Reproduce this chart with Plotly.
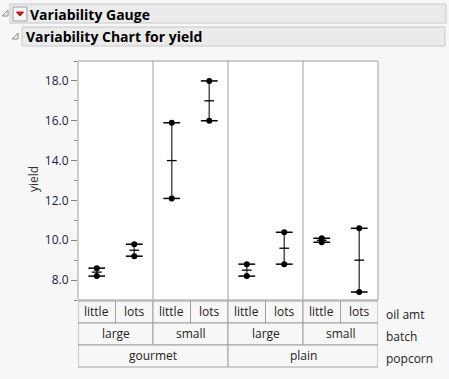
import plotly.graph_objects as go

# ---- data ----
popcorn = ["gourmet", "gourmet", "gourmet", "gourmet", "plain", "plain", "plain", "plain"]
batch = ["large", "large", "small", "small", "large", "large", "small", "small"]
oil_amt = ["little", "lots", "little", "lots", "little", "lots", "little", "lots"]
yield_rep1 = [8.6, 9.2, 12.1, 18.0, 8.2, 10.4, 9.9, 10.6]
yield_rep2 = [8.2, 9.8, 15.9, 16.0, 8.8, 8.8, 10.1, 7.4]
y_ticks = [8.0, 10.0, 12.0, 14.0, 16.0, 18.0]

W, H = 449, 379
L, R, T, B = 78, 378, 61, 300  # plot area in pixels


def px(x):
    return (x - L) / (R - L)


def py(y):
    return (B - y) / (B - T)


n = len(oil_amt)
xs = list(range(n))
means = [(a + b) / 2 for a, b in zip(yield_rep1, yield_rep2)]

fig = go.Figure()

# range bars
lx, ly = [], []
for i in xs:
    lx += [i, i, None]
    ly += [min(yield_rep1[i], yield_rep2[i]), max(yield_rep1[i], yield_rep2[i]), None]
fig.add_trace(go.Scatter(x=lx, y=ly, mode="lines", line=dict(color="#505050", width=1.5),
                         hoverinfo="skip", showlegend=False))
# point ticks
allx = xs + xs
ally = yield_rep1 + yield_rep2
fig.add_trace(go.Scatter(x=allx, y=ally, mode="markers",
                         marker=dict(symbol="line-ew", size=12, line=dict(width=1.5, color="black")),
                         hoverinfo="skip", showlegend=False))
# mean ticks
fig.add_trace(go.Scatter(x=xs, y=means, mode="markers",
                         marker=dict(symbol="line-ew", size=7, line=dict(width=1.3, color="black")),
                         hoverinfo="skip", showlegend=False))
# points
fig.add_trace(go.Scatter(x=allx, y=ally, mode="markers",
                         marker=dict(symbol="circle", size=6, color="black"),
                         showlegend=False))

shapes = []
annotations = []
GRID = "#a0a0a0"

# panel dividers
for k in range(1, n // 2):
    xv = 2 * k - 0.5
    shapes.append(dict(type="line", xref="x", yref="paper", x0=xv, x1=xv, y0=0, y1=1,
                       line=dict(color=GRID, width=1)))
# plot border
shapes.append(dict(type="rect", xref="paper", yref="paper", x0=0, x1=1, y0=0, y1=1,
                   line=dict(color=GRID, width=1)))

# category table
rows = [(301, 323, oil_amt, "oil amt"), (323, 345, None, "batch"), (345, 367, None, "popcorn")]
FONT = "Open Sans"


def groups(keys):
    out = []
    start = 0
    for i in range(1, len(keys) + 1):
        if i == len(keys) or keys[i] != keys[start]:
            out.append((start, i - 1, keys[start][-1]))
            start = i
    return out


level_keys = [
    [(p, b, o) for p, b, o in zip(popcorn, batch, oil_amt)],
    [(p, b) for p, b in zip(popcorn, batch)],
    [(p,) for p in popcorn],
]
for (top, bot, _, label), keys in zip(rows, level_keys):
    for s, e, txt in groups(keys):
        shapes.append(dict(type="rect", xref="x", yref="paper", x0=s - 0.5, x1=e + 0.5,
                           y0=py(bot), y1=py(top), line=dict(color=GRID, width=1),
                           fillcolor="#f7f7f7", layer="below"))
        annotations.append(dict(x=(s + e) / 2, y=py((top + bot) / 2 - 1), xref="x", yref="paper",
                                text=txt, showarrow=False, xanchor="center", yanchor="middle",
                                font=dict(family=FONT, size=12, color="#222")))
    annotations.append(dict(x=px(384), y=py((top + bot) / 2 + 2), xref="paper", yref="paper",
                            text=label, showarrow=False, xanchor="left", yanchor="middle",
                            font=dict(family=FONT, size=12, color="#222")))

# y axis title
annotations.append(dict(x=px(33), y=py(179), xref="paper", yref="paper", text="yield",
                        textangle=-90, showarrow=False, xanchor="center", yanchor="middle",
                        font=dict(family=FONT, size=12, color="#333")))

# header bars
shapes.append(dict(type="rect", xref="paper", yref="paper", x0=px(10), x1=px(446), y0=py(23), y1=py(4),
                   line=dict(color="#c8c8c8", width=1), fillcolor="#ebebeb"))
shapes.append(dict(type="rect", xref="paper", yref="paper", x0=px(22), x1=px(445), y0=py(46), y1=py(27),
                   line=dict(color="#c8c8c8", width=1), fillcolor="#ebebeb"))


def tri(x0, y0, s):
    return "M {} {} L {} {} L {} {} Z".format(px(x0), py(y0 + s), px(x0 + s), py(y0 + s), px(x0 + s), py(y0))


shapes.append(dict(type="path", xref="paper", yref="paper", path=tri(2, 10, 6),
                   line=dict(color="#8a8a8a", width=1), fillcolor="rgba(0,0,0,0)"))
shapes.append(dict(type="path", xref="paper", yref="paper", path=tri(12, 33, 6),
                   line=dict(color="#8a8a8a", width=1), fillcolor="rgba(0,0,0,0)"))
# red dropdown icon
shapes.append(dict(type="rect", xref="paper", yref="paper", x0=px(13), x1=px(27), y0=py(21), y1=py(7),
                   line=dict(color="#a0a0a0", width=1), fillcolor="#f4f4f4"))
shapes.append(dict(type="path", xref="paper", yref="paper",
                   path="M {} {} L {} {} L {} {} Z".format(px(16.5), py(12), px(23.5), py(12), px(20), py(16)),
                   line=dict(color="#d01010", width=1), fillcolor="#d01010"))

annotations.append(dict(x=px(28), y=py(14), xref="paper", yref="paper", text="<b>Variability Gauge</b>",
                        showarrow=False, xanchor="left", yanchor="middle",
                        font=dict(family=FONT, size=14, color="black")))
annotations.append(dict(x=px(24), y=py(37), xref="paper", yref="paper",
                        text="<b>Variability Chart for yield</b>",
                        showarrow=False, xanchor="left", yanchor="middle",
                        font=dict(family=FONT, size=14, color="black")))

fig.update_layout(
    width=W, height=H,
    margin=dict(l=L, r=W - R, t=T, b=H - B, pad=0),
    paper_bgcolor="#f7f7f7", plot_bgcolor="white",
    shapes=shapes, annotations=annotations,
    xaxis=dict(range=[-0.5, n - 0.5], showticklabels=False, ticks="", showgrid=False,
               zeroline=False, showline=False, fixedrange=True),
    yaxis=dict(range=[7, 19], tickvals=y_ticks, tickformat=".1f", ticks="outside", ticklen=6,
               tickcolor="#808080", tickwidth=1, showgrid=False, zeroline=False, showline=False,
               tickfont=dict(family=FONT, size=12, color="#1a1a40"),
               minor=dict(dtick=1, tick0=7, ticks="outside", ticklen=3, tickcolor="#808080", showgrid=False),
               fixedrange=True),
    font=dict(family=FONT),
)

fig.write_html("out.html", config={"displayModeBar": False},
               post_script="document.body.style.margin='0';document.body.style.background='#f7f7f7';")
